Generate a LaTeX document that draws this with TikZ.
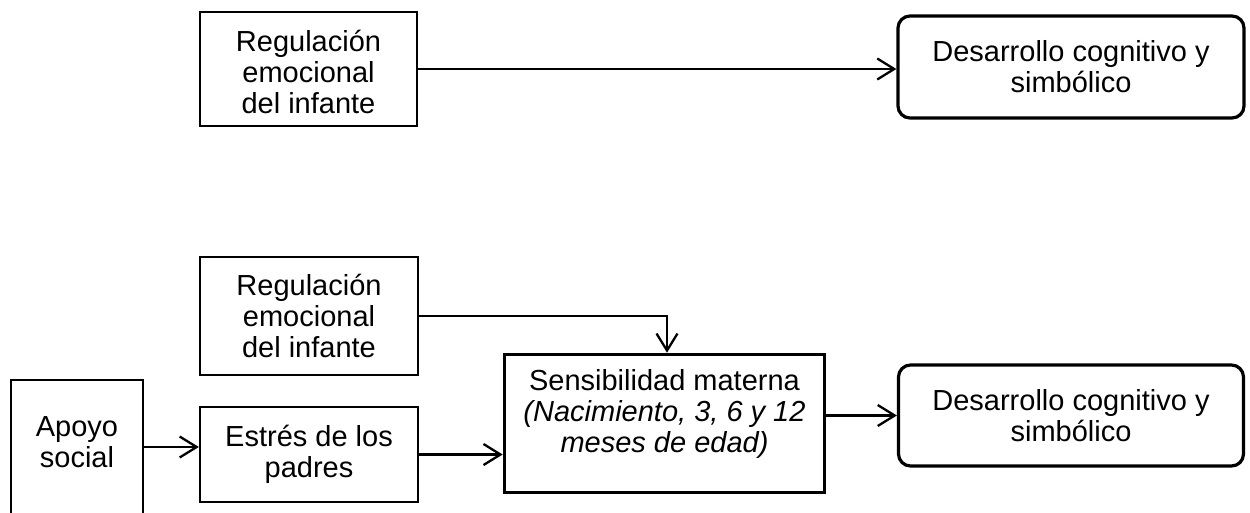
\documentclass[tikz,border=0pt]{standalone}
\usepackage{fontspec}
\setmainfont{Liberation Sans}
\usetikzlibrary{arrows.meta}
\begin{document}
\begin{tikzpicture}[x=1pt,y=-1pt,
  txt/.style={align=center, inner sep=0pt, font=\fontsize{29}{31}\selectfont},
  box/.style={txt, draw, line width=2.3pt},
  thickbox/.style={box, line width=3.6pt},
  roundbox/.style={box, line width=3.2pt, rounded corners=12pt},
  arr/.style={line width=2.3pt, -{Straight Barb[length=17pt,width=21pt]}}]
\useasboundingbox (0,0) rectangle (1250,512);
\clip (0,0) rectangle (1250,512);

% upper model
\node[box, minimum width=217pt, minimum height=114pt] (reg1) at (308.5,69) {};
\node[txt] (reg1txt) at ([yshift=-3pt]reg1.center) {Regulación\\emocional\\del infante};
\node[roundbox, minimum width=346pt, minimum height=102pt] (des1) at (1071,67)
  {Desarrollo cognitivo y\\simbólico};
\draw[arr] (reg1.east) -- (reg1.east -| des1.west);

% lower model
\node[box, minimum width=218pt, minimum height=118pt] (reg2) at (309,316)
  {Regulación\\emocional\\del infante};
\node[box, minimum width=132pt, minimum height=200pt] (apoyo) at (77,480) {};
\node[txt] (apoyotxt) at (77,442) {Apoyo\\social};
\node[box, minimum width=218pt, minimum height=95pt] (estres) at (309,454.5)
  {Estrés de los\\padres};
\node[thickbox, minimum width=320pt, minimum height=138pt] (sens) at (664.5,423.5) {};
\node[txt] (senstxt) at ([yshift=10pt]sens.center)
  {Sensibilidad materna\\\textit{(Nacimiento, 3, 6 y 12}\\\textit{meses de edad)}};
\node[roundbox, minimum width=345pt, minimum height=101pt] (des2) at (1071,415.5)
  {Desarrollo cognitivo y\\simbólico};

\coordinate (estresin) at ([yshift=7.5pt]estres.west);
\draw[arr] (apoyo.east |- estresin) -- (estresin);
\draw[arr] (estres.east) -- (estres.east -| sens.west);
\draw[arr] (sens.east |- des2.west) -- (des2.west);
\draw[arr] (reg2.east) -| ([xshift=2.5pt]sens.north);
\end{tikzpicture}
\end{document}
